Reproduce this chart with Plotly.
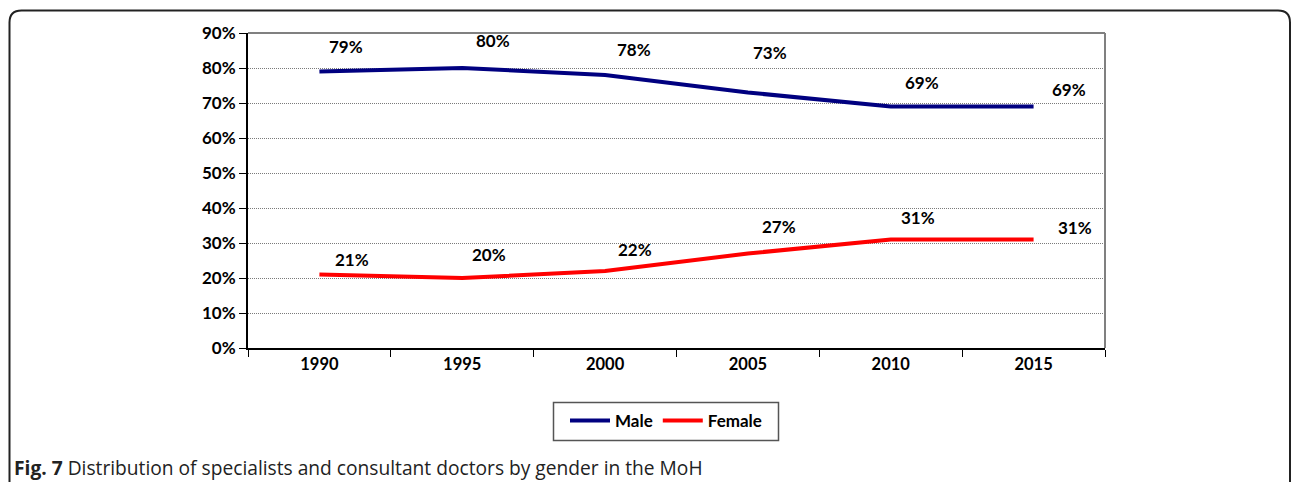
import plotly.graph_objects as go

years = ["1990", "1995", "2000", "2005", "2010", "2015"]
male = [0.79, 0.80, 0.78, 0.73, 0.69, 0.69]
female = [0.21, 0.20, 0.22, 0.27, 0.31, 0.31]
male_labels = ["79%", "80%", "78%", "73%", "69%", "69%"]
female_labels = ["21%", "20%", "22%", "27%", "31%", "31%"]
male_shift = [(27, 25), (31, 28), (29, 26), (22, 40), (31, 24), (35, 17)]
female_shift = [(33, 15), (27, 24), (30, 22), (31, 27), (27, 22), (41, 12)]

W, H = 1292, 482
L, R, T, B = 248, 1105, 33, 348
FONT = "Lato"

def px(x):
    return (x - L) / (R - L)

def py(y):
    return (B - y) / (B - T)

fig = go.Figure()
fig.add_trace(go.Scatter(x=years, y=male, mode="lines", name="Male",
                         line=dict(color="#000080", width=4)))
fig.add_trace(go.Scatter(x=years, y=female, mode="lines", name="Female",
                         line=dict(color="#ff0000", width=4)))

lab_font = dict(family=FONT, size=17, color="black", weight="bold")
anns = []
for i, (v, t, (dx, dy)) in enumerate(zip(male, male_labels, male_shift)):
    anns.append(dict(x=i, y=v, xref="x", yref="y", text=t, showarrow=False,
                     xshift=dx, yshift=dy, font=lab_font))
for i, (v, t, (dx, dy)) in enumerate(zip(female, female_labels, female_shift)):
    anns.append(dict(x=i, y=v, xref="x", yref="y", text=t, showarrow=False,
                     xshift=dx, yshift=dy, font=lab_font))
anns.append(dict(xref="paper", yref="paper", x=px(12), y=py(467), xanchor="left", yanchor="middle",
                 text="<b>Fig. 7</b> Distribution of specialists and consultant doctors by gender in the MoH",
                 showarrow=False, font=dict(family="Open Sans", size=19.2, color="#222222")))

# outer rounded frame (open at bottom)
x0, y0, x1, yb, r = 9.5, 10.5, 1290, 495, 12
path = (f"M {px(x0)} {py(yb)} L {px(x0)} {py(y0 + r)} "
        f"Q {px(x0)} {py(y0)} {px(x0 + r)} {py(y0)} "
        f"L {px(x1 - r)} {py(y0)} Q {px(x1)} {py(y0)} {px(x1)} {py(y0 + r)} "
        f"L {px(x1)} {py(yb)}")
shapes = [
    dict(type="path", xref="paper", yref="paper", path=path,
         line=dict(color="#222222", width=2)),
    dict(type="line", xref="paper", yref="paper", x0=0, x1=1, y0=1, y1=1,
         line=dict(color="#808080", width=2)),
    dict(type="line", xref="paper", yref="paper", x0=1, x1=1, y0=0, y1=1,
         line=dict(color="#808080", width=2)),
    # legend box
    dict(type="rect", xref="paper", yref="paper", x0=px(553.5), x1=px(778.5),
         y0=py(440.5), y1=py(402.5), line=dict(color="#555555", width=1.5)),
]

fig.update_layout(
    width=W, height=H,
    margin=dict(l=L, r=W - R, t=T, b=H - B),
    plot_bgcolor="white", paper_bgcolor="white",
    showlegend=True,
    legend=dict(orientation="h", x=px(666), y=py(421), xanchor="center", yanchor="middle",
                borderwidth=0, bgcolor="rgba(0,0,0,0)",
                font=dict(family=FONT, size=17, color="black", weight="bold"),
                itemwidth=40, tracegroupgap=0),
    annotations=anns,
    shapes=shapes,
    xaxis=dict(type="category", range=[-0.5, 5.5], tickson="boundaries",
               ticks="outside", ticklen=7, tickcolor="black",
               showline=True, linecolor="black", linewidth=1.5,
               showgrid=False, zeroline=False,
               tickfont=dict(family=FONT, size=16.5, color="black", weight="bold")),
    yaxis=dict(range=[0, 0.9], dtick=0.1, tickformat=".0%",
               ticks="outside", ticklen=7, tickcolor="black",
               showline=True, linecolor="black", linewidth=2,
               showgrid=True, gridcolor="#7a7a7a", griddash="1px,1px", gridwidth=1,
               zeroline=False,
               tickfont=dict(family=FONT, size=17, color="black", weight="bold")),
)

fig.write_html("out.html", config={"displayModeBar": False},
               post_script="document.body.style.margin='0';")
